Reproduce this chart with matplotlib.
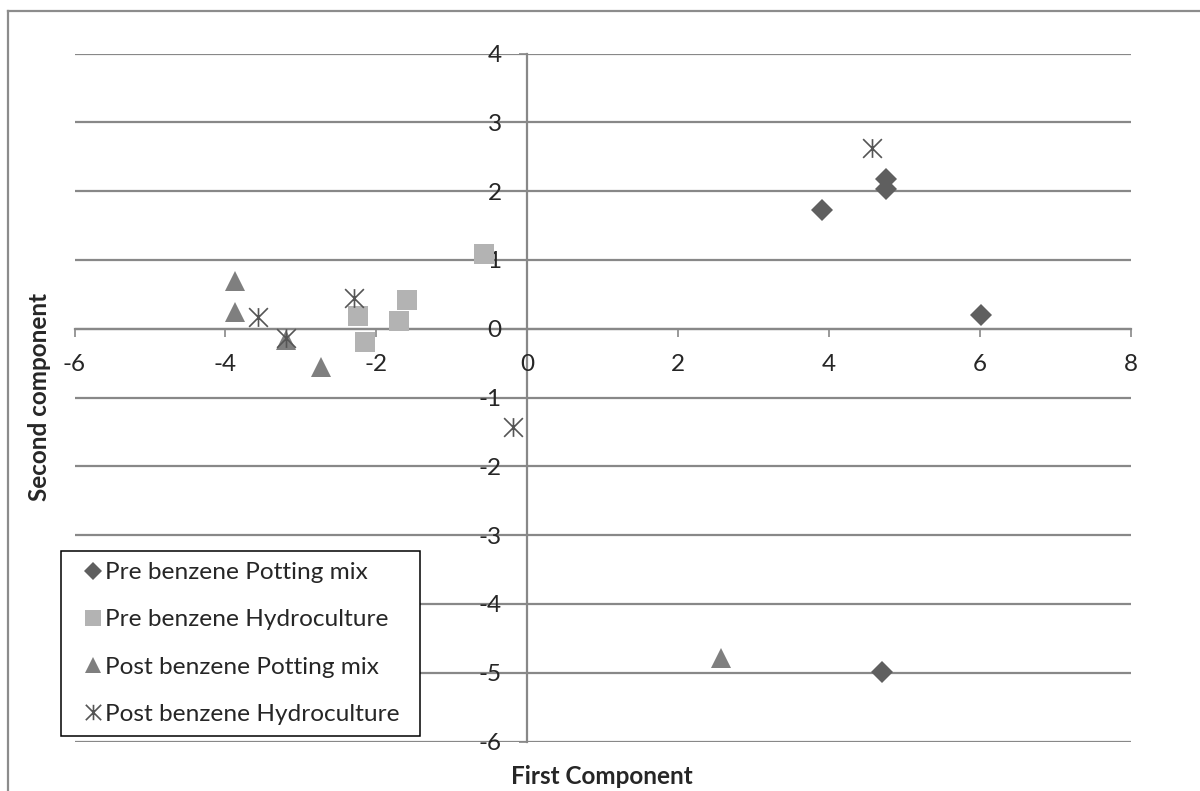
import matplotlib
matplotlib.use("Agg")
import matplotlib.pyplot as plt
from matplotlib.path import Path
from matplotlib.lines import Line2D

plt.rcParams['font.family'] = ['Lato', 'DejaVu Sans']

# ---- data ----
pre_potting_x = [3.90, 4.76, 4.75, 6.01, 4.70]
pre_potting_y = [1.72, 2.18, 2.03, 0.20, -4.99]
pre_hydro_x = [-2.24, -2.15, -1.70, -1.60, -0.57]
pre_hydro_y = [0.19, -0.19, 0.11, 0.42, 1.09]
post_potting_x = [-3.875, -3.875, -3.20, -2.74, 2.57]
post_potting_y = [0.69, 0.25, -0.16, -0.56, -4.79]
post_hydro_x = [-3.57, -3.20, -2.30, -0.19, 4.57]
post_hydro_y = [0.17, -0.13, 0.45, -1.43, 2.63]

series_labels = ["Pre benzene Potting mix", "Pre benzene Hydroculture",
                 "Post benzene Potting mix", "Post benzene Hydroculture"]
x_ticks = [-6, -4, -2, 0, 2, 4, 6, 8]
y_ticks = [-6, -5, -4, -3, -2, -1, 0, 1, 2, 3, 4]

W, H = 1200, 791
fig = plt.figure(figsize=(W / 100, H / 100), dpi=100)

left, right, top, bottom = 74.5, 1131, 53.5, 741.5
ax = fig.add_axes([left / W, 1 - bottom / H, (right - left) / W, (bottom - top) / H])
ax.set_xlim(-6, 8)
ax.set_ylim(-6, 4)

grid_c = '#888888'
for y in y_ticks:
    ax.axhline(y, color=grid_c, lw=1.6, zorder=1)

for s in ['top', 'right']:
    ax.spines[s].set_visible(False)
ax.spines['left'].set_position(('data', 0))
ax.spines['bottom'].set_position(('data', 0))
for s in ['left', 'bottom']:
    ax.spines[s].set_color(grid_c)
    ax.spines[s].set_linewidth(1.6)
    ax.spines[s].set_zorder(1.5)

ax.set_xticks(x_ticks)
ax.set_yticks(y_ticks)
ax.set_xticklabels([str(v) for v in x_ticks])
ax.set_yticklabels([str(v) for v in y_ticks])
ax.tick_params(axis='both', direction='out', length=5.5, width=1.2, color=grid_c,
               labelsize=17.5, labelcolor='#262626')
ax.tick_params(axis='x', pad=12.5)
ax.tick_params(axis='y', pad=13)

star = Path([(-0.5, -0.5), (0.5, 0.5), (-0.5, 0.5), (0.5, -0.5), (0, -0.5), (0, 0.5)],
            [Path.MOVETO, Path.LINETO, Path.MOVETO, Path.LINETO, Path.MOVETO, Path.LINETO])

ax.plot(pre_potting_x, pre_potting_y, ls='none', marker='D', ms=10.7,
        mfc='#5f5f5f', mec='#5f5f5f', mew=0, label=series_labels[0], zorder=3)
ax.plot(pre_hydro_x, pre_hydro_y, ls='none', marker='s', ms=14,
        mfc='#b3b3b3', mec='#b3b3b3', mew=0, label=series_labels[1], zorder=3)
ax.plot(post_potting_x, post_potting_y, ls='none', marker='^', ms=14.5,
        mfc='#7f7f7f', mec='#7f7f7f', mew=0, label=series_labels[2], zorder=3)
ax.plot(post_hydro_x, post_hydro_y, ls='none', marker=star, ms=13.5,
        mfc='none', mec='#555555', mew=1.2, label=series_labels[3], zorder=4)

ax.set_facecolor('none')

leg = fig.legend(loc='upper left',
                 bbox_to_anchor=(61 / W, 1 - 551 / H - 0.01, 359 / W, 0.01),
                 mode='expand', borderaxespad=0, fontsize=17.6,
                 frameon=True, fancybox=False, framealpha=1,
                 edgecolor='black', handlelength=1.7, handletextpad=-0.35,
                 borderpad=0.45, labelspacing=1.07, markerscale=0.82)
leg.get_frame().set_linewidth(1.1)
for t in leg.get_texts():
    t.set_color('#262626')

fig.text(40 / W, 1 - 397 / H, "Second component", rotation=90, ha='center',
         va='center', fontsize=17.5, fontweight='bold', color='#262626')
fig.text(602 / W, 1 - 777 / H, "First Component", ha='center', va='center',
         fontsize=17.5, fontweight='bold', color='#262626')

# outer chart border (left and top visible)
fig.add_artist(Line2D([8 / W, 8 / W], [0, 1 - 10.7 / H], transform=fig.transFigure,
                      color='#8c8c8c', lw=1.6))
fig.add_artist(Line2D([8 / W, 1], [1 - 10.7 / H, 1 - 10.7 / H], transform=fig.transFigure,
                      color='#8c8c8c', lw=1.6))

fig.savefig('out.png', dpi=100)
